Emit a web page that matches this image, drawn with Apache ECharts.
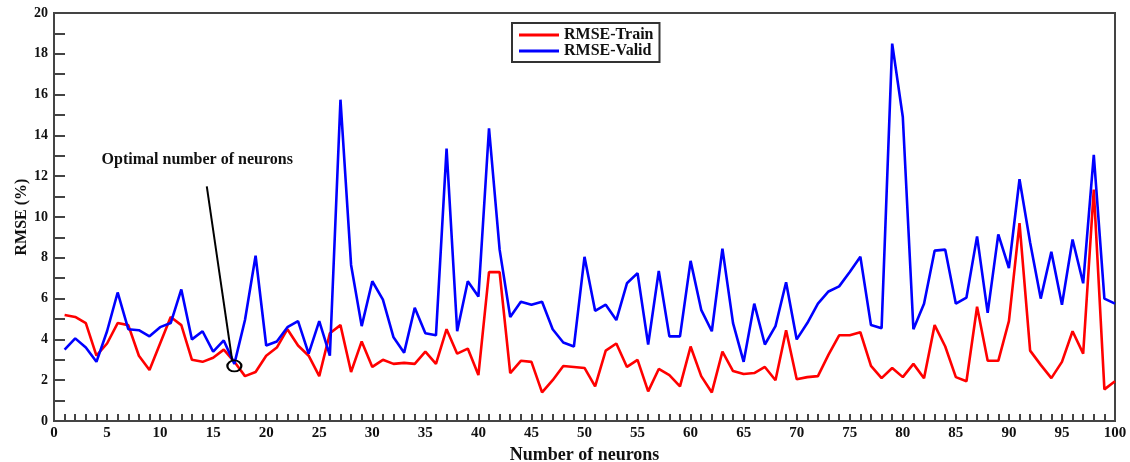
<!DOCTYPE html>
<html>
<head>
<meta charset="utf-8">
<script src="https://cdn.jsdelivr.net/npm/echarts@6/dist/echarts.min.js"></script>
<style>
  html, body { margin: 0; padding: 0; background: #fff; }
  #chart { width: 1130px; height: 462px; }
</style>
</head>
<body>
<div id="chart"></div>
<script>
// Number of hidden neurons tested
const neurons = [
  1, 2, 3, 4, 5, 6, 7, 8, 9, 10,
  11, 12, 13, 14, 15, 16, 17, 18, 19, 20,
  21, 22, 23, 24, 25, 26, 27, 28, 29, 30,
  31, 32, 33, 34, 35, 36, 37, 38, 39, 40,
  41, 42, 43, 44, 45, 46, 47, 48, 49, 50,
  51, 52, 53, 54, 55, 56, 57, 58, 59, 60,
  61, 62, 63, 64, 65, 66, 67, 68, 69, 70,
  71, 72, 73, 74, 75, 76, 77, 78, 79, 80,
  81, 82, 83, 84, 85, 86, 87, 88, 89, 90,
  91, 92, 93, 94, 95, 96, 97, 98, 99, 100
];

// RMSE (%) on the training set
const rmseTrain = [
  5.2, 5.1, 4.8, 3.2, 3.8, 4.8, 4.7, 3.2, 2.5, 3.8,
  5.1, 4.7, 3.0, 2.9, 3.1, 3.5, 2.9, 2.2, 2.4, 3.2,
  3.6, 4.5, 3.7, 3.2, 2.2, 4.3, 4.7, 2.4, 3.9, 2.65,
  3.0, 2.8, 2.85, 2.8, 3.4, 2.8, 4.5, 3.3, 3.55, 2.25,
  7.3, 7.3, 2.35, 2.95, 2.9, 1.4, 2.0, 2.7, 2.65, 2.6,
  1.7, 3.45, 3.8, 2.65, 3.0, 1.45, 2.55, 2.25, 1.7, 3.65,
  2.2, 1.4, 3.4, 2.45, 2.3, 2.35, 2.65, 2.0, 4.45, 2.05,
  2.15, 2.2, 3.25, 4.2, 4.2, 4.35, 2.7, 2.1, 2.6, 2.15,
  2.8, 2.1, 4.7, 3.65, 2.15, 1.95, 5.6, 2.95, 2.95, 4.9,
  9.7, 3.45, 2.75, 2.1, 2.9, 4.4, 3.3, 11.35, 1.55, 1.95
];

// RMSE (%) on the validation set
const rmseValid = [
  3.5, 4.05, 3.6, 2.9, 4.4, 6.3, 4.5, 4.45, 4.15, 4.6,
  4.8, 6.45, 4.0, 4.4, 3.4, 3.95, 2.8, 4.95, 8.1, 3.7,
  3.9, 4.6, 4.9, 3.3, 4.9, 3.2, 15.75, 7.65, 4.65, 6.85,
  5.95, 4.1, 3.35, 5.55, 4.3, 4.2, 13.35, 4.4, 6.85, 6.1,
  14.35, 8.4, 5.1, 5.85, 5.7, 5.85, 4.5, 3.85, 3.65, 8.05,
  5.4, 5.7, 4.95, 6.75, 7.25, 3.75, 7.35, 4.15, 4.15, 7.85,
  5.45, 4.4, 8.45, 4.8, 2.9, 5.75, 3.75, 4.65, 6.8, 4.0,
  4.8, 5.75, 6.35, 6.6, 7.3, 8.05, 4.7, 4.55, 18.5, 14.9,
  4.5, 5.75, 8.35, 8.4, 5.75, 6.05, 9.05, 5.3, 9.15, 7.5,
  11.85, 8.75, 6.0, 8.3, 5.7, 8.9, 6.75, 13.05, 6.0, 5.75
];

const FONT = "'Liberation Serif', 'DejaVu Serif', serif";
const AXIS_COLOR = '#444';

const pairs = (ys) => neurons.map((n, i) => [n, ys[i]]);

const chart = echarts.init(document.getElementById('chart'), null, { renderer: 'canvas' });

chart.setOption({
  animation: false,
  backgroundColor: '#fff',
  grid: {
    left: 54, right: 15, top: 13, bottom: 41,
    outerBoundsMode: 'none',
    containLabel: false,
    show: true,
    borderColor: AXIS_COLOR,
    borderWidth: 2,
    backgroundColor: 'transparent'
  },
  legend: {
    orient: 'vertical',
    left: 512,
    top: 23,
    padding: [4, 6, 3, 7],
    itemGap: 0,
    itemWidth: 40,
    itemHeight: 3,
    borderColor: '#333',
    borderWidth: 2,
    backgroundColor: '#fff',
    textStyle: { fontFamily: FONT, fontWeight: 'bold', fontSize: 16, lineHeight: 15, color: '#111' },
    data: [
      { name: 'RMSE-Train', icon: 'rect' },
      { name: 'RMSE-Valid', icon: 'rect' }
    ]
  },
  xAxis: {
    type: 'value',
    min: 0, max: 100, interval: 5,
    name: 'Number of neurons',
    nameLocation: 'middle',
    nameGap: 22,
    nameTextStyle: { fontFamily: FONT, fontWeight: 'bold', fontSize: 18, color: '#111' },
    axisLine: { show: true, lineStyle: { color: AXIS_COLOR, width: 2 } },
    axisTick: { show: true, inside: true, length: 7, lineStyle: { color: AXIS_COLOR, width: 2 } },
    minorTick: { show: true, splitNumber: 5, length: 7, lineStyle: { color: AXIS_COLOR, width: 2 } },
    axisLabel: { fontFamily: FONT, fontWeight: 'bold', fontSize: 15, color: '#111', margin: 5 },
    splitLine: { show: false }
  },
  yAxis: {
    type: 'value',
    min: 0, max: 20, interval: 2,
    name: 'RMSE (%)',
    nameLocation: 'middle',
    nameGap: 24,
    nameMoveOverlap: false,
    nameTextStyle: { fontFamily: FONT, fontWeight: 'bold', fontSize: 16, color: '#111' },
    axisLine: { show: true, lineStyle: { color: AXIS_COLOR, width: 2 } },
    axisTick: { show: true, inside: true, length: 11, lineStyle: { color: AXIS_COLOR, width: 2 } },
    minorTick: { show: true, splitNumber: 2, length: 11, lineStyle: { color: AXIS_COLOR, width: 2 } },
    axisLabel: { fontFamily: FONT, fontWeight: 'bold', fontSize: 14, color: '#111', margin: 6 },
    splitLine: { show: false }
  },
  series: [
    {
      name: 'RMSE-Train',
      type: 'line',
      data: pairs(rmseTrain),
      symbol: 'none',
      color: '#ff0000',
      lineStyle: { color: '#ff0000', width: 2.6 },
      z: 2
    },
    {
      name: 'RMSE-Valid',
      type: 'line',
      data: pairs(rmseValid),
      symbol: 'none',
      color: '#0000ff',
      lineStyle: { color: '#0000ff', width: 2.6 },
      z: 3,
      markLine: {
        silent: true,
        symbol: ['none', 'none'],
        label: { show: false },
        lineStyle: { color: '#000', width: 2, type: 'solid' },
        data: [[{ coord: [14.4, 11.5] }, { coord: [16.8, 2.95] }]]
      },
      markPoint: {
        silent: true,
        data: [
          {
            coord: [17, 2.7],
            symbol: 'circle',
            symbolSize: [14, 11],
            itemStyle: { color: 'rgba(0,0,0,0)', borderColor: '#000', borderWidth: 2 },
            label: { show: false }
          },
          {
            coord: [13.5, 12.8],
            symbol: 'circle',
            symbolSize: 0,
            label: {
              show: true,
              position: 'inside',
              formatter: 'Optimal number of neurons',
              fontFamily: FONT, fontWeight: 'bold', fontSize: 16, color: '#111'
            }
          }
        ]
      }
    }
  ]
});
</script>
</body>
</html>
